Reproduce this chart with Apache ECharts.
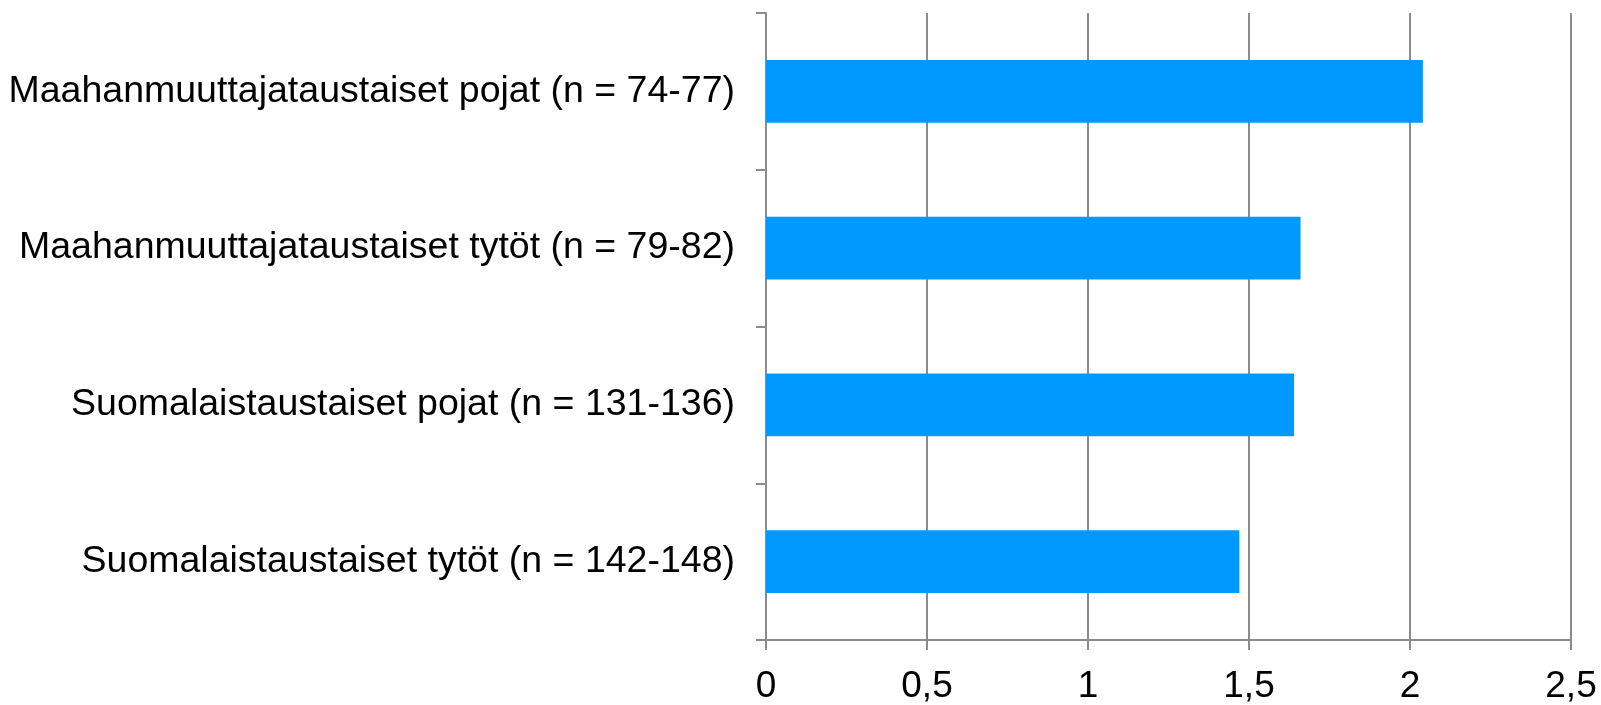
<!DOCTYPE html>
<html>
<head>
<meta charset="utf-8">
<script src="https://cdn.jsdelivr.net/npm/echarts@6/dist/echarts.min.js"></script>
<style>
  html, body { margin: 0; padding: 0; background: #fff; }
  #chart { width: 1601px; height: 705px; }
</style>
</head>
<body>
<div id="chart"></div>
<script>
// ryhmät ylhäältä alas
const categories = [
  'Maahanmuuttajataustaiset pojat (n = 74-77)',
  'Maahanmuuttajataustaiset tytöt (n = 79-82)',
  'Suomalaistaustaiset pojat (n = 131-136)',
  'Suomalaistaustaiset tytöt (n = 142-148)'
];
const values = [2.04, 1.66, 1.64, 1.47];
const xTicks = [0, 0.5, 1, 1.5, 2, 2.5];

let myChart = echarts.init(document.getElementById('chart'));

myChart.setOption({
  animation: false,
  grid: {
    left: 766,
    right: 30,
    top: 13,
    bottom: 62,
    containLabel: false
  },
  xAxis: {
    type: 'value',
    min: xTicks[0],
    max: xTicks[xTicks.length - 1],
    interval: 0.5,
    axisLine: {
      show: true,
      lineStyle: { color: '#8c8c8c', width: 2 }
    },
    axisTick: {
      show: true,
      length: 10,
      lineStyle: { color: '#8c8c8c', width: 2 }
    },
    splitLine: {
      show: true,
      lineStyle: { color: '#8c8c8c', width: 2 }
    },
    axisLabel: {
      margin: 28,
      color: '#000',
      fontFamily: 'Liberation Sans',
      fontSize: 37,
      formatter: (v) => String(v).replace('.', ',')
    }
  },
  yAxis: {
    type: 'category',
    inverse: true,
    data: categories,
    axisLine: {
      show: true,
      lineStyle: { color: '#8c8c8c', width: 2 }
    },
    axisTick: {
      show: true,
      length: 10,
      lineStyle: { color: '#8c8c8c', width: 2 }
    },
    axisLabel: {
      margin: 31,
      padding: [8, 0, 0, 0],
      color: '#000',
      fontFamily: 'Liberation Sans',
      fontSize: 37.5
    }
  },
  series: [
    {
      type: 'bar',
      data: values,
      barWidth: '40%',
      itemStyle: { color: '#0099ff' }
    }
  ]
});
</script>
</body>
</html>
